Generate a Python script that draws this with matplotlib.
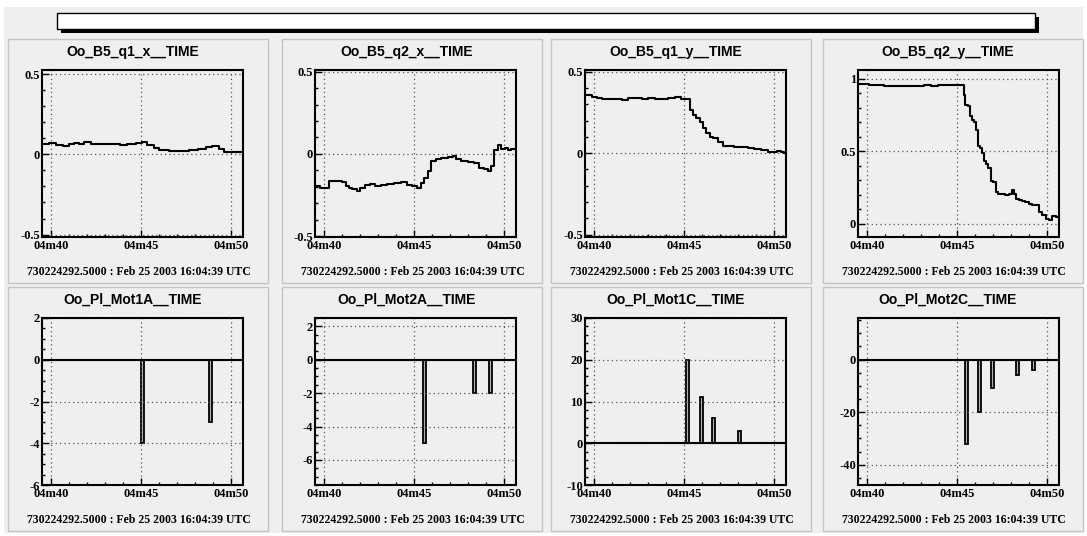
import matplotlib
matplotlib.use("Agg")
import matplotlib.pyplot as plt
from matplotlib.patches import Rectangle
from matplotlib.ticker import MultipleLocator, FuncFormatter

plt.rcParams['axes.unicode_minus'] = False
plt.rcParams['font.family'] = 'serif'
plt.rcParams['font.serif'] = ['Liberation Serif', 'DejaVu Serif']
plt.rcParams['font.weight'] = 'bold'

# time axis: seconds after 16:04:00
tick_pos = [40, 45, 50]
tick_lab = ["04m40", "04m45", "04m50"]
footer = "730224292.5000 : Feb 25 2003 16:04:39 UTC"

titles = ["Oo_B5_q1_x__TIME", "Oo_B5_q2_x__TIME", "Oo_B5_q1_y__TIME", "Oo_B5_q2_y__TIME",
          "Oo_Pl_Mot1A__TIME", "Oo_Pl_Mot2A__TIME", "Oo_Pl_Mot1C__TIME", "Oo_Pl_Mot2C__TIME"]

# beam position strip charts (step histograms)
q1x_t = [39.5, 39.89, 40.26, 40.63, 41.0, 41.28, 41.56, 41.83, 42.2, 42.67, 43.2, 43.8, 44.24, 44.7,
         45.07, 45.35, 45.7, 46.0, 46.55, 47.1, 47.67, 48.2, 48.6, 48.96, 49.33, 49.6, 50.07, 50.5, 50.7]
q1x_v = [0.064, 0.073, 0.056, 0.054, 0.062, 0.073, 0.062, 0.077, 0.064, 0.062, 0.064, 0.060, 0.064, 0.068,
         0.075, 0.058, 0.037, 0.027, 0.023, 0.021, 0.027, 0.033, 0.048, 0.052, 0.031, 0.015, 0.017, 0.012, 0.012]

q2x_t = [39.5, 39.78, 40.06, 40.24, 40.43, 40.71, 40.99, 41.18, 41.36, 41.55, 41.83, 42.01, 42.29, 42.57,
         42.85, 43.13, 43.51, 43.88, 44.25, 44.63, 44.91, 45.19, 45.37, 45.56, 45.75, 45.93, 46.21, 46.49,
         46.87, 47.15, 47.33, 47.61, 47.99, 48.36, 48.64, 48.92, 49.1, 49.29, 49.48, 49.66, 49.85, 50.04,
         50.22, 50.41, 50.7]
q2x_v = [-0.194, -0.208, -0.208, -0.167, -0.163, -0.167, -0.171, -0.198, -0.208, -0.213, -0.225, -0.208,
         -0.188, -0.183, -0.192, -0.188, -0.183, -0.177, -0.171, -0.188, -0.198, -0.208, -0.177, -0.146,
         -0.104, -0.042, -0.031, -0.027, -0.021, -0.010, -0.031, -0.042, -0.052, -0.058, -0.083, -0.094,
         -0.104, -0.073, 0.021, 0.052, 0.031, 0.038, 0.025, 0.031, 0.021]

q1y_t = [39.5, 39.87, 40.15, 40.42, 40.79, 41.16, 41.53, 41.9, 42.27, 42.64, 43.0, 43.38, 43.75, 44.11,
         44.48, 44.85, 45.22, 45.31, 45.5, 45.68, 45.87, 46.05, 46.24, 46.42, 46.6, 46.88, 47.16, 47.44,
         47.8, 48.17, 48.54, 48.91, 49.28, 49.65, 49.93, 50.2, 50.39, 50.57, 50.7]
q1y_v = [0.357, 0.347, 0.337, 0.331, 0.335, 0.331, 0.327, 0.337, 0.339, 0.335, 0.337, 0.333, 0.335, 0.339,
         0.343, 0.335, 0.335, 0.265, 0.235, 0.214, 0.194, 0.153, 0.122, 0.102, 0.092, 0.071, 0.045, 0.041,
         0.037, 0.035, 0.031, 0.027, 0.020, 0.006, 0.006, 0.014, 0.010, 0.0, 0.0]

q2y_t = [39.5, 39.81, 40.09, 40.56, 40.94, 41.31, 41.69, 42.06, 42.43, 42.81, 43.18, 43.56, 43.93, 44.31,
         44.68, 45.06, 45.28, 45.39, 45.47, 45.62, 45.71, 45.81, 45.94, 46.03, 46.14, 46.27, 46.4, 46.5,
         46.61, 46.74, 46.87, 47.02, 47.15, 47.3, 47.49, 47.68, 47.87, 48.05, 48.15, 48.28, 48.43, 48.61,
         48.8, 48.99, 49.18, 49.36, 49.55, 49.74, 49.93, 50.11, 50.3, 50.49, 50.7]
q2y_v = [0.966, 0.961, 0.959, 0.955, 0.952, 0.948, 0.950, 0.948, 0.950, 0.952, 0.955, 0.952, 0.959, 0.957,
         0.955, 0.957, 0.955, 0.887, 0.819, 0.812, 0.740, 0.717, 0.699, 0.649, 0.536, 0.525, 0.491, 0.434,
         0.412, 0.382, 0.299, 0.287, 0.219, 0.208, 0.204, 0.197, 0.204, 0.231, 0.204, 0.174, 0.163, 0.156,
         0.152, 0.140, 0.133, 0.129, 0.084, 0.061, 0.034, 0.027, 0.057, 0.050, 0.038]

# motor steps (spikes)
mot1a_t = [45.0, 48.78]
mot1a_v = [-4, -3]
mot2a_t = [45.5, 48.29, 49.2]
mot2a_v = [-5, -2, -2]
mot1c_t = [45.09, 45.87, 46.56, 47.98]
mot1c_v = [20, 11, 6, 3]
mot2c_t = [45.44, 46.18, 46.87, 48.27, 49.18]
mot2c_v = [-32, -20, -11, -6, -4]

series = [(q1x_t, q1x_v), (q2x_t, q2x_v), (q1y_t, q1y_v), (q2y_t, q2y_v),
          (mot1a_t, mot1a_v), (mot2a_t, mot2a_v), (mot1c_t, mot1c_v), (mot2c_t, mot2c_v)]
ylims = [(-0.515, 0.525), (-0.505, 0.51), (-0.514, 0.51), (-0.09, 1.06),
         (-6, 2), (-7.5, 2.5), (-10, 30), (-47.7, 15.8)]
ymajor = [0.5, 0.5, 0.5, 0.5, 2, 2, 10, 20]
yminor = [0.1, 0.1, 0.1, 0.1, 0.5, 0.5, 2, 5]

W, H = 1087, 536
BG = '#efefef'
fig = plt.figure(figsize=(W / 100, H / 100), dpi=100)
fig.patch.set_facecolor('white')

# canvas drawn in pixel coordinates
bg = fig.add_axes([0, 0, 1, 1])
bg.set_xlim(0, W)
bg.set_ylim(H, 0)
bg.axis('off')
bg.add_patch(Rectangle((4, 7), 1079, 526, facecolor=BG, edgecolor='none'))
# title box with shadow
bg.add_patch(Rectangle((61, 17), 978, 16, facecolor='black', edgecolor='none'))
bg.add_patch(Rectangle((57, 13), 978, 16, facecolor='white', edgecolor='black', lw=1))

pad_left = [8, 282, 551, 823]
pad_top = [39, 287]
ax_left = [42, 315, 585, 858]
ax_top = [70, 318]

for i in range(8):
    r, c = divmod(i, 4)
    px, py = pad_left[c], pad_top[r]
    bg.add_patch(Rectangle((px, py), 260, 244, facecolor=BG, edgecolor='#c4c4c4', lw=1))
    bg.text(px + 125, py + 13, titles[i], family='Liberation Sans', fontsize=10,
            weight='bold', ha='center', va='center')
    bg.text(px + 131, py + 233, footer, fontsize=8.5, ha='center', va='center')

    ax = fig.add_axes([ax_left[c] / W, 1 - (ax_top[r] + 167) / H, 201 / W, 167 / H])
    ax.set_facecolor(BG)
    t, v = series[i]
    if i < 4:
        ax.step(t, v, where='post', color='black', lw=1.5)
    else:
        ax.axhline(0, color='black', lw=1.5)
        ax.bar(t, v, width=0.17, align='edge', facecolor='#b0b0b0', edgecolor='black', lw=1.3)
    ax.set_xlim(39.48, 50.68)
    ax.set_ylim(*ylims[i])
    ax.set_xticks(tick_pos)
    ax.set_xticklabels(tick_lab)
    ax.xaxis.set_minor_locator(MultipleLocator(1))
    ax.yaxis.set_major_locator(MultipleLocator(ymajor[i]))
    ax.yaxis.set_minor_locator(MultipleLocator(yminor[i]))
    ax.yaxis.set_major_formatter(FuncFormatter(lambda y, p: "%g" % round(y, 3)))
    ax.grid(True, which='major', color='#555555', lw=0.9, linestyle=(0, (1, 2.5)))
    ax.tick_params(which='both', direction='in', top=False, right=False, labelsize=9, width=1)
    ax.tick_params(which='major', length=5)
    ax.tick_params(which='minor', length=2.5)
    ax.tick_params(axis='x', pad=2)
    ax.tick_params(axis='y', pad=1.5)
    for s in ax.spines.values():
        s.set_linewidth(1.5)

plt.savefig("out.png", dpi=100, facecolor=fig.get_facecolor())
